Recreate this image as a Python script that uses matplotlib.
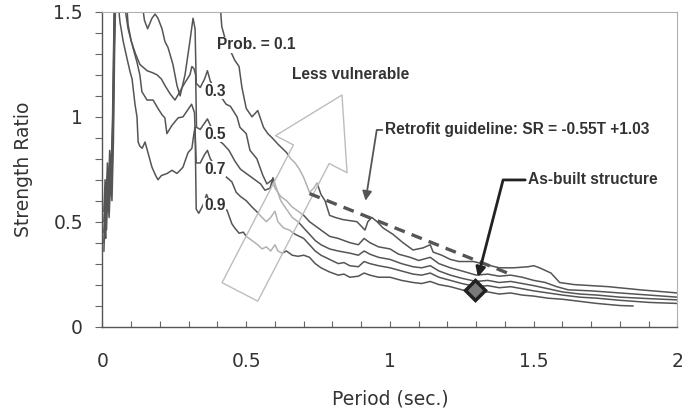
import matplotlib
matplotlib.use("Agg")
import matplotlib.pyplot as plt
from matplotlib.patches import FancyArrowPatch
from matplotlib.ticker import MultipleLocator
import numpy as np

# fragility contours: strength ratio vs. period for each exceedance probability
period_p10 = [0.005, 0.009, 0.013, 0.017, 0.021, 0.025, 0.03, 0.035, 0.04, 0.045, 0.1, 0.2, 0.3, 0.36, 0.40,
              0.41, 0.415, 0.425, 0.44, 0.46, 0.475, 0.485, 0.50, 0.52, 0.54, 0.56, 0.575, 0.59, 0.61, 0.625,
              0.64, 0.655, 0.67, 0.685, 0.70, 0.72, 0.735, 0.746, 0.76, 0.774, 0.79, 0.81, 0.836, 0.86, 0.885,
              0.913, 0.923, 0.937, 0.955, 0.976, 1.01, 1.045, 1.08, 1.115, 1.14, 1.15, 1.18, 1.21, 1.24, 1.29,
              1.32, 1.38, 1.43, 1.48, 1.50, 1.52, 1.56, 1.59, 1.64, 1.76, 1.87, 2.0]
sr_p10 = [0.55, 0.70, 0.60, 0.78, 0.66, 0.84, 0.74, 1.0, 1.45, 1.9, 1.85, 1.75, 1.8, 1.7, 1.6,
          1.52, 1.43, 1.38, 1.33, 1.27, 1.24, 1.14, 1.04, 1.0, 1.03, 0.95, 0.92, 0.90, 0.87, 0.85,
          0.83, 0.80, 0.78, 0.75, 0.71, 0.64, 0.66, 0.685, 0.63, 0.60, 0.53, 0.52, 0.51, 0.505, 0.50,
          0.46, 0.50, 0.52, 0.50, 0.47, 0.44, 0.40, 0.365, 0.375, 0.39, 0.355, 0.34, 0.32, 0.31, 0.31,
          0.30, 0.28, 0.28, 0.285, 0.29, 0.28, 0.255, 0.21, 0.20, 0.19, 0.175, 0.16]

period_p30 = [0.005, 0.009, 0.013, 0.017, 0.021, 0.026, 0.031, 0.036, 0.04, 0.045, 0.1, 0.13, 0.14, 0.146,
              0.157, 0.172, 0.183, 0.193, 0.207, 0.217, 0.228, 0.245, 0.259, 0.27, 0.287, 0.304, 0.315,
              0.322, 0.326, 0.34, 0.355, 0.365, 0.375, 0.39, 0.41, 0.43, 0.445, 0.468, 0.478, 0.50, 0.513,
              0.537, 0.558, 0.572, 0.59, 0.60, 0.62, 0.64, 0.66, 0.68, 0.70, 0.72, 0.74, 0.76, 0.79, 0.82,
              0.84, 0.86, 0.89, 0.91, 0.93, 0.96, 1.0, 1.03, 1.07, 1.10, 1.14, 1.17, 1.21, 1.25, 1.30, 1.34,
              1.38, 1.42, 1.46, 1.50, 1.54, 1.58, 1.62, 1.70, 1.80, 1.90, 2.0]
sr_p30 = [0.5, 0.62, 0.55, 0.72, 0.6, 0.8, 0.7, 0.98, 1.4, 1.8, 1.75, 1.6, 1.52, 1.46,
          1.42, 1.47, 1.49, 1.47, 1.42, 1.36, 1.33, 1.25, 1.15, 1.10, 1.20, 1.36, 1.47,
          1.42, 1.16, 1.14, 1.18, 1.22, 1.17, 1.14, 1.10, 1.06, 1.05, 1.00, 0.95, 0.92, 0.84,
          0.80, 0.72, 0.68, 0.70, 0.66, 0.62, 0.60, 0.57, 0.55, 0.53, 0.50, 0.48, 0.46, 0.43, 0.42,
          0.41, 0.40, 0.39, 0.42, 0.40, 0.38, 0.37, 0.345, 0.33, 0.315, 0.33, 0.30, 0.28, 0.265, 0.245, 0.25,
          0.24, 0.245, 0.235, 0.22, 0.21, 0.19, 0.175, 0.17, 0.16, 0.15, 0.14]

period_p50 = [0.005, 0.009, 0.013, 0.018, 0.022, 0.027, 0.032, 0.037, 0.041, 0.046, 0.07, 0.085, 0.089, 0.10,
              0.115, 0.13, 0.155, 0.175, 0.19, 0.205, 0.217, 0.235, 0.252, 0.265, 0.277, 0.29, 0.304, 0.311,
              0.318, 0.324, 0.327, 0.34, 0.355, 0.365, 0.375, 0.39, 0.402, 0.42, 0.44, 0.46, 0.48, 0.50, 0.53,
              0.55, 0.565, 0.583, 0.593, 0.60, 0.62, 0.64, 0.66, 0.68, 0.70, 0.72, 0.74, 0.76, 0.79, 0.82, 0.84,
              0.86, 0.89, 0.91, 0.93, 0.96, 1.0, 1.04, 1.08, 1.11, 1.14, 1.17, 1.21, 1.25, 1.30, 1.34, 1.38,
              1.42, 1.46, 1.50, 1.55, 1.60, 1.66, 1.72, 1.80, 1.90, 2.0]
sr_p50 = [0.45, 0.58, 0.5, 0.68, 0.56, 0.75, 0.65, 0.92, 1.35, 1.7, 1.7, 1.52, 1.44, 1.36,
          1.30, 1.25, 1.22, 1.21, 1.20, 1.18, 1.15, 1.11, 1.08, 1.11, 1.14, 1.17, 1.20, 1.24,
          1.23, 1.20, 0.95, 0.94, 0.97, 0.99, 0.96, 0.92, 0.89, 0.87, 0.84, 0.79, 0.75, 0.73, 0.70,
          0.68, 0.65, 0.66, 0.71, 0.68, 0.60, 0.56, 0.52, 0.50, 0.47, 0.44, 0.41, 0.39, 0.37, 0.36, 0.355,
          0.35, 0.34, 0.36, 0.345, 0.33, 0.32, 0.30, 0.285, 0.28, 0.29, 0.265, 0.245, 0.23, 0.215, 0.22, 0.21,
          0.215, 0.205, 0.195, 0.18, 0.165, 0.155, 0.15, 0.14, 0.133, 0.127]

period_p70 = [0.005, 0.01, 0.014, 0.018, 0.023, 0.028, 0.033, 0.038, 0.042, 0.047, 0.07, 0.078, 0.089, 0.106,
              0.12, 0.13, 0.137, 0.155, 0.176, 0.193, 0.207, 0.217, 0.224, 0.242, 0.263, 0.28, 0.295, 0.31,
              0.32, 0.326, 0.34, 0.355, 0.365, 0.375, 0.39, 0.41, 0.433, 0.45, 0.465, 0.48, 0.50, 0.52, 0.535,
              0.555, 0.57, 0.585, 0.60, 0.61, 0.63, 0.65, 0.67, 0.70, 0.72, 0.74, 0.76, 0.79, 0.82, 0.84, 0.86,
              0.89, 0.91, 0.93, 0.96, 1.0, 1.04, 1.08, 1.11, 1.14, 1.17, 1.21, 1.25, 1.30, 1.34, 1.38, 1.42,
              1.46, 1.50, 1.55, 1.60, 1.66, 1.72, 1.80, 1.90, 2.0]
sr_p70 = [0.40, 0.55, 0.46, 0.64, 0.52, 0.70, 0.60, 0.88, 1.3, 1.65, 1.65, 1.52, 1.42, 1.33,
          1.26, 1.20, 1.12, 1.08, 1.08, 1.04, 1.01, 0.995, 0.92, 0.96, 0.995, 1.0, 1.03, 1.06,
          1.02, 0.78, 0.78, 0.82, 0.84, 0.80, 0.77, 0.74, 0.71, 0.69, 0.64, 0.62, 0.60, 0.57, 0.55,
          0.52, 0.50, 0.52, 0.55, 0.50, 0.47, 0.46, 0.44, 0.42, 0.39, 0.36, 0.34, 0.32, 0.30, 0.305, 0.29,
          0.285, 0.31, 0.30, 0.29, 0.28, 0.265, 0.25, 0.245, 0.255, 0.235, 0.22, 0.205, 0.19, 0.195, 0.185, 0.19,
          0.18, 0.17, 0.16, 0.15, 0.14, 0.135, 0.125, 0.115, 0.11]

period_p90 = [0.005, 0.008, 0.011, 0.014, 0.017, 0.02, 0.024, 0.028, 0.032, 0.036, 0.04, 0.044, 0.05, 0.056,
              0.061, 0.066, 0.072, 0.085, 0.095, 0.103, 0.113, 0.12, 0.124, 0.13, 0.138, 0.148, 0.16, 0.172,
              0.185, 0.193, 0.205, 0.225, 0.242, 0.259, 0.27, 0.28, 0.29, 0.298, 0.311, 0.318, 0.322, 0.326,
              0.335, 0.35, 0.362, 0.37, 0.385, 0.40, 0.42, 0.433, 0.45, 0.46, 0.475, 0.49, 0.50, 0.52, 0.54,
              0.555, 0.57, 0.585, 0.60, 0.61, 0.625, 0.64, 0.66, 0.68, 0.70, 0.72, 0.74, 0.76, 0.79, 0.82,
              0.84, 0.86, 0.89, 0.91, 0.93, 0.96, 1.0, 1.04, 1.08, 1.11, 1.14, 1.17, 1.21, 1.25, 1.30, 1.34,
              1.38, 1.42, 1.46, 1.50, 1.55, 1.60, 1.66, 1.72, 1.80, 1.845]
sr_p90 = [0.36, 0.5, 0.42, 0.62, 0.55, 0.72, 0.6, 0.8, 0.7, 0.95, 1.3, 1.6, 1.62, 1.52,
          1.45, 1.41, 1.36, 1.28, 1.22, 1.18, 1.06, 1.0, 0.88, 0.86, 0.85, 0.88, 0.82, 0.76,
          0.72, 0.70, 0.72, 0.73, 0.745, 0.73, 0.745, 0.76, 0.80, 0.83, 0.85, 0.92, 0.95, 0.56,
          0.54, 0.58, 0.63, 0.60, 0.58, 0.57, 0.56, 0.555, 0.49, 0.47, 0.445, 0.45, 0.43, 0.41, 0.39,
          0.37, 0.38, 0.36, 0.39, 0.36, 0.35, 0.36, 0.34, 0.335, 0.34, 0.33, 0.30, 0.28, 0.26, 0.245,
          0.25, 0.235, 0.24, 0.255, 0.245, 0.235, 0.235, 0.22, 0.21, 0.205, 0.215, 0.20, 0.19, 0.175, 0.16, 0.165,
          0.155, 0.16, 0.15, 0.145, 0.135, 0.13, 0.12, 0.11, 0.10, 0.098]

prob_labels = ["Prob. = 0.1", "0.3", "0.5", "0.7", "0.9"]
label_sr = [1.343, 1.123, 0.918, 0.751, 0.575]

# retrofit guideline SR = -0.55T + 1.03
guide_slope = -0.55
guide_icpt = 1.03
guide_range = [0.72, 1.43]

# as-built structure
asbuilt_T = 1.294
asbuilt_sr = 0.174

curve_periods = [period_p10, period_p30, period_p50, period_p70, period_p90]
curve_srs = [sr_p10, sr_p30, sr_p50, sr_p70, sr_p90]

fig = plt.figure(figsize=(6.86, 4.16), dpi=100)
ax = fig.add_axes([0.1494, 0.2151, 0.8382, 0.7561])

for T, sr in zip(curve_periods, curve_srs):
    ax.plot(T, sr, color="#555555", lw=1.1, zorder=2)

# hollow arrow showing the less vulnerable direction
arrow = FancyArrowPatch((0.478, 0.165), (0.833, 1.104),
                        arrowstyle="simple,head_length=4.8,head_width=5.8,tail_width=2.9",
                        mutation_scale=10, shrinkA=0, shrinkB=0,
                        facecolor=(1, 1, 1, 0.55), edgecolor="#bdbdbd", lw=1.0, zorder=3)
ax.add_patch(arrow)

gT = np.array(guide_range)
ax.plot(gT, guide_slope * gT + guide_icpt, color="#555555", lw=2.4,
        dashes=(3.3, 2.2), zorder=4)

ax.plot([asbuilt_T], [asbuilt_sr], marker="D", markersize=10, color="#7a7a7a",
        markeredgecolor="#222222", markeredgewidth=2.5, zorder=6)

bold = dict(family=["Liberation Sans", "DejaVu Sans"], fontweight="bold",
            fontsize=11.2, color="#333333")
box = dict(facecolor="white", edgecolor="none", pad=0.6)

ax.text(0.398, label_sr[0], prob_labels[0], ha="left", va="center", bbox=box, zorder=5, **bold)
for lab, y in zip(prob_labels[1:], label_sr[1:]):
    ax.text(0.353, y, lab, ha="left", va="center", bbox=box, zorder=5, **bold)

ax.text(0.659, 1.20, "Less vulnerable", ha="left", va="center", zorder=5, **bold)

ax.annotate("Retrofit guideline: SR = -0.55T +1.03", xy=(0.915, 0.60), xytext=(0.983, 0.9375),
            ha="left", va="center", zorder=5,
            arrowprops=dict(arrowstyle="-|>", color="#555555", lw=1.3, mutation_scale=14,
                            shrinkA=0, shrinkB=0, relpos=(0, 0.5),
                            connectionstyle="angle,angleA=0,angleB=81,rad=0"),
            **bold)

ax.annotate("As-built structure", xy=(1.306, 0.236), xytext=(1.48, 0.699),
            ha="left", va="center", zorder=5,
            arrowprops=dict(arrowstyle="-|>", color="#222222", lw=2.0, mutation_scale=14,
                            shrinkA=0, shrinkB=0, relpos=(0, 0.5),
                            connectionstyle="angle,angleA=0,angleB=75.5,rad=0"),
            **bold)

ax.set_xlim(0, 2)
ax.set_ylim(0, 1.5)
ax.xaxis.set_major_locator(MultipleLocator(0.5))
ax.xaxis.set_minor_locator(MultipleLocator(0.1))
ax.yaxis.set_major_locator(MultipleLocator(0.5))
ax.yaxis.set_minor_locator(MultipleLocator(0.1))
ax.set_xticks([0, 0.5, 1, 1.5, 2], ["0", "0.5", "1", "1.5", "2"])
ax.set_yticks([0, 0.5, 1, 1.5], ["0", "0.5", "1", "1.5"])

ax.tick_params(axis="y", which="both", direction="out", length=5, width=0.8,
               color="#666666", pad=9)
ax.tick_params(axis="x", which="both", direction="in", length=4, width=0.8,
               color="#666666", pad=18)
for lab in ax.get_xticklabels() + ax.get_yticklabels():
    lab.set_fontsize(13.5)
    lab.set_color("#333333")

for side in ["left", "bottom"]:
    ax.spines[side].set_color("#555555")
    ax.spines[side].set_linewidth(1.0)
for side in ["top", "right"]:
    ax.spines[side].set_color("#b0b0b0")
    ax.spines[side].set_linewidth(0.8)

ax.set_xlabel("Period (sec.)", fontsize=13.5, color="#333333")
ax.set_ylabel("Strength Ratio", fontsize=13.5, color="#333333")
ax.xaxis.set_label_coords(0.5, -0.2)
ax.yaxis.set_label_coords(-0.12, 0.5)

fig.savefig("out.png", dpi=100)
